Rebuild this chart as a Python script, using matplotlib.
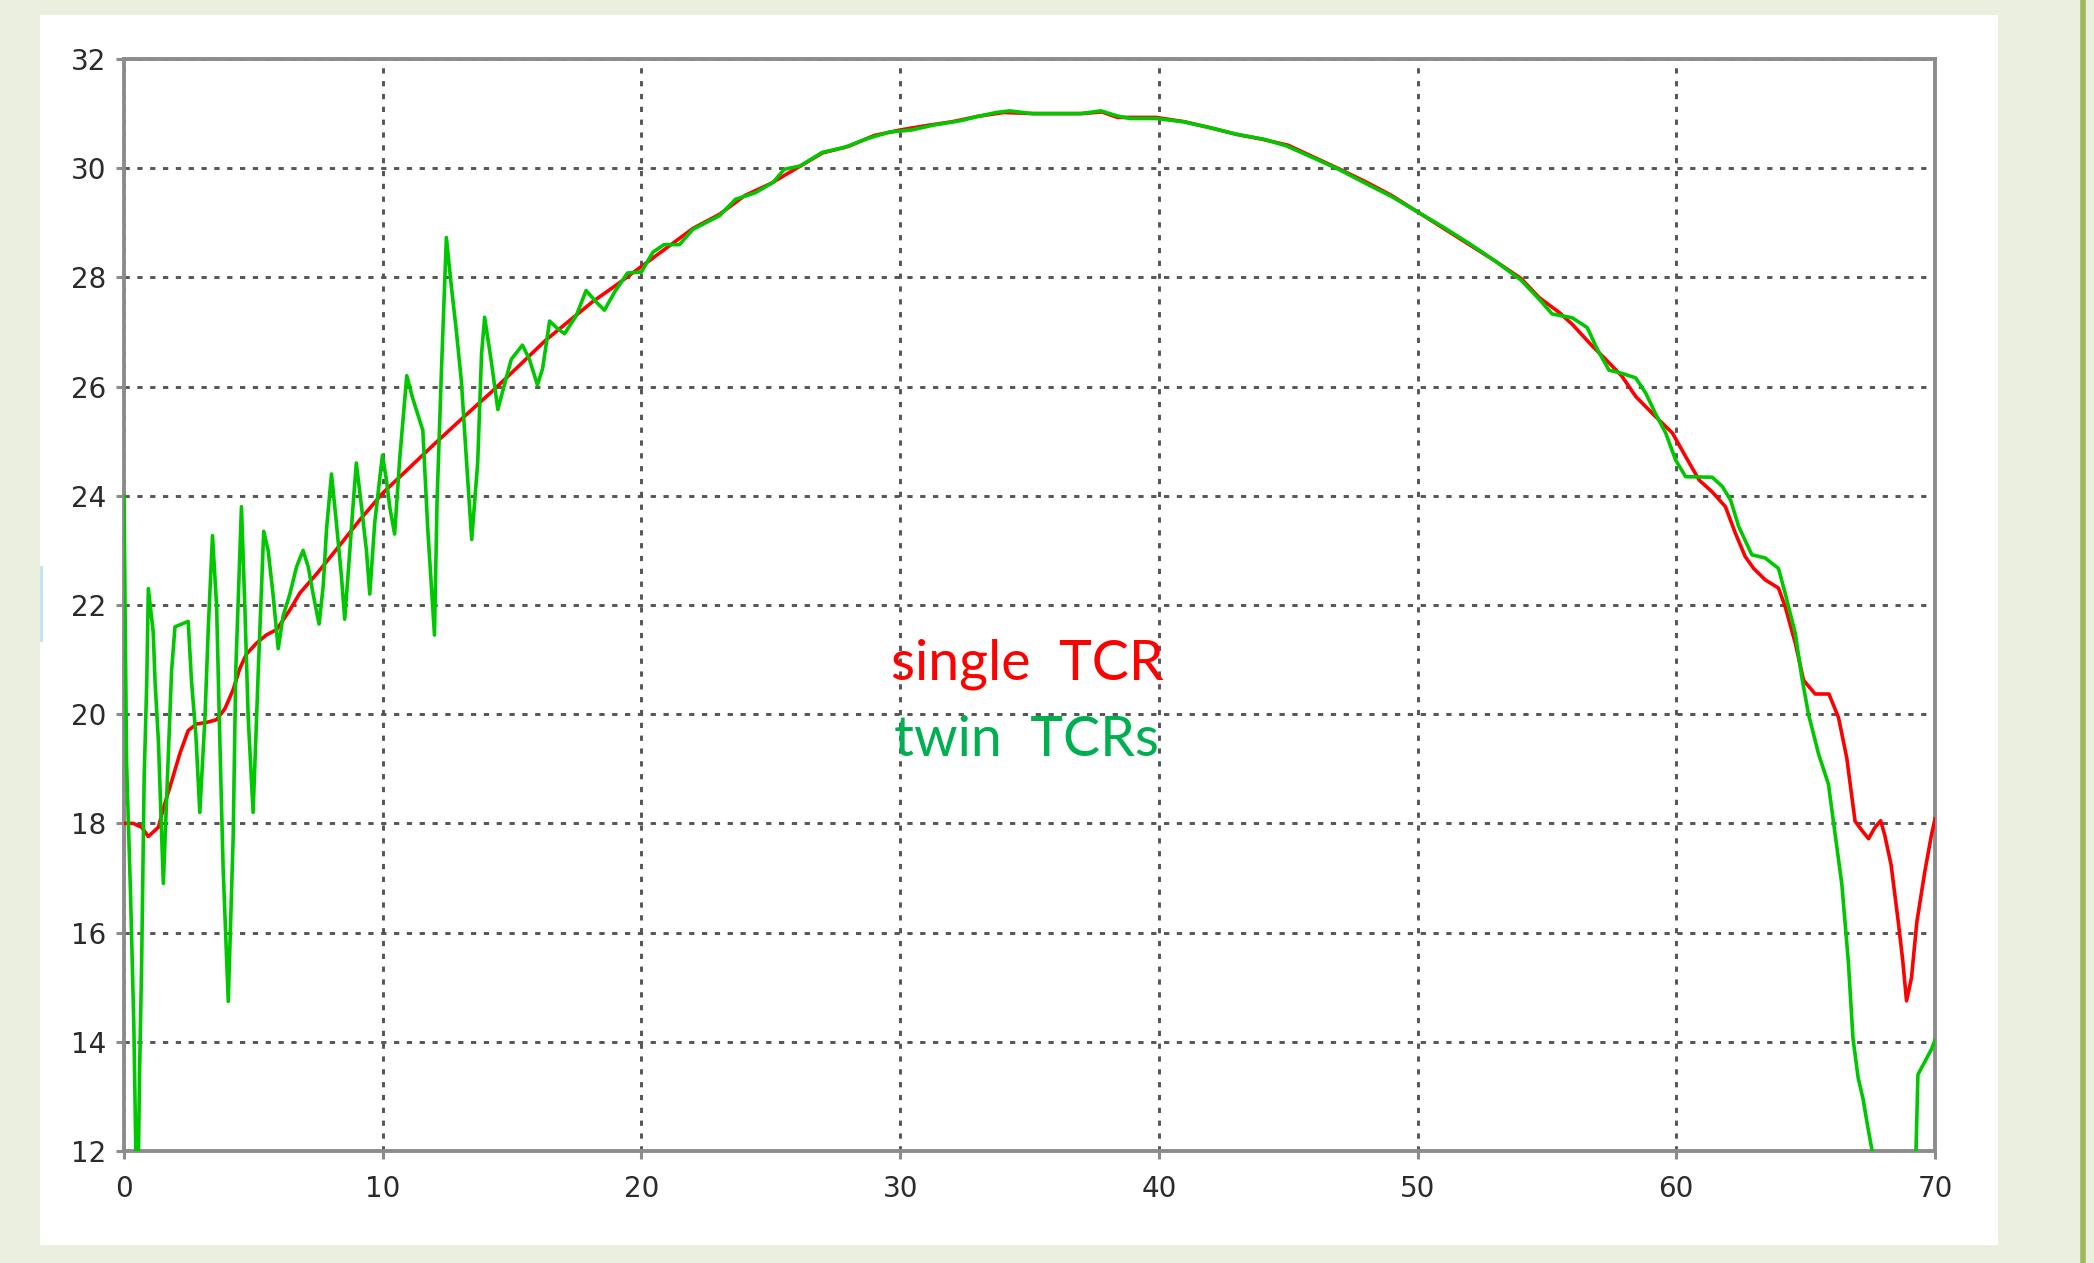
import matplotlib
matplotlib.use("Agg")
import matplotlib.pyplot as plt
from matplotlib.patches import Rectangle
from matplotlib.lines import Line2D

# --- data ---
x_single = [0.0, 0.36, 0.68, 0.94, 1.33, 1.52, 1.84, 2.16, 2.48, 2.8, 3.2, 3.58, 3.9,
            4.22, 4.47, 4.73, 5.12, 5.5, 5.9, 6.4, 6.8, 7.5, 8.3, 9.1, 10.0, 11.0, 12.0,
            13.1, 14.2, 15.2, 16.3, 17.2, 18.1, 19.0, 20.0, 21.0, 22.0, 23.0, 24.0, 25.0,
            26.0, 27.0, 28.0, 29.0, 30.0, 31.0, 32.0, 33.0, 34.0, 35.2, 37.0, 37.8, 38.4,
            39.9, 41.0, 42.0, 43.0, 44.0, 45.0, 46.0, 47.0, 48.0, 49.0, 50.0, 51.0, 52.0,
            53.0, 54.0, 54.7, 55.47, 55.98, 56.76, 57.27, 57.9, 58.43, 59.2, 59.85, 60.36,
            60.88, 61.39, 61.9, 62.28, 62.66, 62.99, 63.44, 63.95, 64.21, 64.6, 64.92,
            65.37, 65.9, 66.27, 66.59, 66.91, 67.16, 67.43, 67.67, 67.9, 68.06, 68.3,
            68.58, 68.75, 68.9, 69.09, 69.3, 69.6, 69.86, 70.0]
single_tcr = [18.0, 18.0, 17.93, 17.76, 17.93, 18.27, 18.77, 19.28, 19.7, 19.82, 19.85,
              19.9, 20.1, 20.45, 20.83, 21.1, 21.3, 21.45, 21.55, 21.9, 22.22, 22.6, 23.07,
              23.55, 24.05, 24.5, 24.95, 25.43, 25.9, 26.35, 26.85, 27.2, 27.55, 27.85,
              28.2, 28.55, 28.9, 29.15, 29.5, 29.72, 30.0, 30.28, 30.4, 30.6, 30.7, 30.78,
              30.85, 30.95, 31.02, 31.0, 31.0, 31.03, 30.93, 30.93, 30.85, 30.74, 30.62,
              30.53, 30.42, 30.2, 29.98, 29.75, 29.5, 29.2, 28.9, 28.6, 28.3, 27.98, 27.63,
              27.36, 27.14, 26.74, 26.5, 26.19, 25.82, 25.45, 25.15, 24.72, 24.29, 24.07,
              23.8, 23.32, 22.89, 22.67, 22.46, 22.31, 21.97, 21.3, 20.62, 20.37, 20.37,
              19.94, 19.2, 18.04, 17.88, 17.72, 17.92, 18.05, 17.78, 17.25, 16.2, 15.5,
              14.75, 15.17, 16.2, 17.1, 17.78, 18.08]

x_twin = [0.0, 0.1, 0.25, 0.38, 0.47, 0.55, 0.6, 0.68, 0.78, 0.88, 0.94, 1.13, 1.2, 1.33,
          1.52, 1.71, 1.84, 1.97, 2.48, 2.61, 2.78, 2.93, 3.13, 3.26, 3.42, 3.58, 3.7,
          3.83, 4.03, 4.22, 4.32, 4.54, 4.67, 4.8, 4.99, 5.19, 5.4, 5.57, 5.76, 5.96,
          6.15, 6.41, 6.67, 6.92, 7.12, 7.31, 7.54, 7.7, 7.83, 8.02, 8.21, 8.4, 8.53,
          8.66, 8.85, 8.98, 9.18, 9.37, 9.5, 9.69, 9.88, 9.99, 10.14, 10.27, 10.46, 10.66,
          10.93, 11.15, 11.55, 11.74, 12.0, 12.1, 12.27, 12.46, 12.65, 12.85, 13.04,
          13.23, 13.44, 13.67, 13.82, 13.94, 14.2, 14.45, 14.7, 14.97, 15.4, 15.67,
          15.98, 16.18, 16.45, 16.76, 17.03, 17.48, 17.86, 18.25, 18.57, 18.96, 19.46,
          20.0, 20.44, 20.87, 21.47, 21.99, 23.02, 23.63, 24.4, 25.09, 25.52, 26.13,
          26.99, 27.85, 28.71, 29.58, 30.44, 31.3, 32.33, 33.02, 33.71, 34.23, 35.09,
          36.99, 37.76, 38.37, 38.89, 39.92, 40.95, 41.99, 43.02, 44.06, 44.92, 45.78,
          46.95, 48.0, 49.0, 50.0, 51.0, 52.0, 53.0, 54.0, 54.7, 55.2, 55.98, 56.56,
          56.95, 57.4, 57.85, 58.43, 58.82, 59.2, 59.59, 59.97, 60.36, 61.39, 61.78,
          62.1, 62.41, 62.92, 63.44, 63.95, 64.21, 64.6, 64.85, 65.11, 65.5, 65.88,
          66.14, 66.4, 66.65, 66.83, 67.03, 67.22, 67.41, 67.57, 68.0, 68.5, 69.0, 69.2,
          69.34, 69.6, 69.86, 70.0]
twin_tcrs = [24.0, 19.1, 16.75, 14.3, 11.6, 11.6, 13.4, 15.4, 18.86, 20.6, 22.3, 21.5,
             20.6, 19.5, 16.9, 19.2, 20.8, 21.6, 21.7, 20.6, 19.6, 18.2, 19.95, 21.6,
             23.27, 21.97, 19.6, 17.2, 14.74, 17.76, 20.8, 23.8, 21.97, 19.95, 18.2, 20.8,
             23.35, 23.0, 22.2, 21.2, 21.8, 22.2, 22.7, 23.0, 22.7, 22.2, 21.65, 22.35,
             23.4, 24.4, 23.5, 22.55, 21.74, 22.55, 23.8, 24.6, 23.8, 23.0, 22.2, 23.5,
             24.3, 24.74, 24.3, 23.8, 23.3, 24.7, 26.2, 25.8, 25.2, 23.4, 21.45, 23.9,
             26.3, 28.73, 27.85, 27.0, 26.1, 24.7, 23.2, 24.6, 26.6, 27.27, 26.45, 25.58,
             26.03, 26.5, 26.76, 26.5, 26.03, 26.33, 27.2, 27.06, 26.97, 27.3, 27.76,
             27.55, 27.4, 27.73, 28.08, 28.1, 28.46, 28.6, 28.6, 28.88, 29.13, 29.43,
             29.55, 29.74, 29.98, 30.04, 30.29, 30.38, 30.54, 30.66, 30.7, 30.79, 30.87,
             30.95, 31.02, 31.05, 31.0, 31.0, 31.05, 30.96, 30.91, 30.91, 30.85, 30.74,
             30.62, 30.53, 30.41, 30.23, 29.98, 29.72, 29.48, 29.2, 28.92, 28.62, 28.3,
             27.95, 27.6, 27.33, 27.26, 27.08, 26.68, 26.3, 26.25, 26.16, 25.88, 25.5,
             25.15, 24.66, 24.35, 24.34, 24.17, 23.92, 23.44, 22.92, 22.86, 22.67, 22.21,
             21.48, 20.68, 20.0, 19.27, 18.72, 17.8, 16.88, 15.47, 14.06, 13.34, 12.95,
             12.42, 12.0, 11.0, 10.5, 10.6, 10.8, 13.4, 13.63, 13.86, 14.03]

x_ticks = [0, 10, 20, 30, 40, 50, 60, 70]
y_ticks = [12, 14, 16, 18, 20, 22, 24, 26, 28, 30, 32]
labels = ["single  TCR", "twin  TCRs"]

W, H = 2094, 1263
fig = plt.figure(figsize=(W / 100, H / 100), dpi=100, facecolor="#ebefdf")

# white slide panel + olive rule on the right
fig.patches.append(Rectangle((40 / W, 1 - 1245 / H), 1958 / W, 1230 / H,
                             transform=fig.transFigure, facecolor="white",
                             edgecolor="none", zorder=-1))
fig.add_artist(Line2D([2083 / W, 2083 / W], [0, 1], transform=fig.transFigure,
                      color="#9bbb59", lw=4))
fig.add_artist(Line2D([41 / W, 41 / W], [1 - 640 / H, 1 - 567 / H],
                      transform=fig.transFigure, color="#bfe0f5", lw=2))

ax = fig.add_axes([124 / W, 1 - 1151 / H, 1811 / W, 1092 / H])
ax.set_facecolor("white")

ax.plot(x_single, single_tcr, color="#ff0000", lw=2.6, zorder=3)
ax.plot(x_twin, twin_tcrs, color="#00c800", lw=2.6, zorder=4)

ax.set_xlim(0, 70)
ax.set_ylim(12, 32)
ax.set_xticks(x_ticks)
ax.set_yticks(y_ticks)

ax.set_axisbelow(True)
ax.grid(True, color="#555555", lw=2.1, linestyle=(0, (1.8, 2.6)))

for s in ax.spines.values():
    s.set_color("#8c8c8c")
    s.set_linewidth(2.8)
ax.tick_params(axis="both", colors="#8c8c8c", length=6, width=2.2, labelcolor="#2b2b2b",
               labelsize=20)
ax.tick_params(axis="x", pad=11)
ax.tick_params(axis="y", pad=7)

ax.text(34.9, 20.92, labels[0], color="#ff0000", fontsize=40, family="Lato",
        ha="center", va="center")
ax.text(34.9, 19.51, labels[1], color="#00b050", fontsize=40, family="Lato",
        ha="center", va="center")

fig.savefig("out.png", dpi=100, facecolor=fig.get_facecolor())
